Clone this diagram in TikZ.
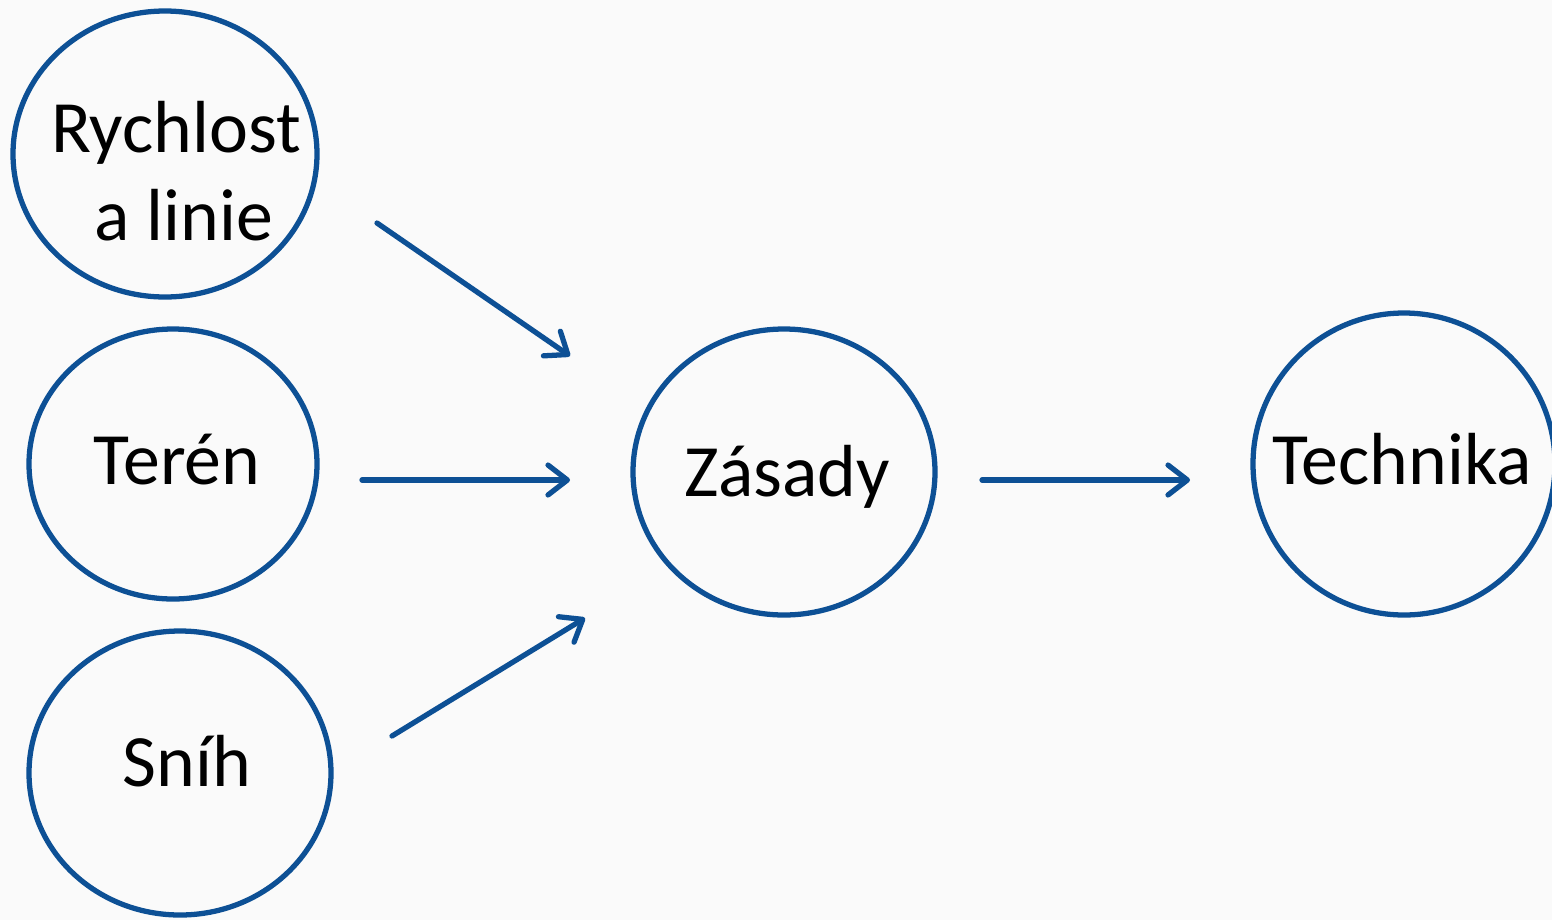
\documentclass[tikz,border=0pt]{standalone}
\usepackage{fontspec}
\setmainfont{Carlito}
\usetikzlibrary{shapes.geometric,arrows.meta}
\definecolor{ringblue}{HTML}{0D5095}
\definecolor{paper}{HTML}{FAFAFA}
\tikzset{
  ring/.style={draw=ringblue, line width=3pt, shape=ellipse, inner sep=0pt},
  word/.style={font=\fontsize{42}{50}\selectfont, text=black, inner sep=0pt, align=center},
  flow/.style={draw=ringblue, line width=3pt, line cap=round,
    -{Straight Barb[length=11pt,width=17pt,line width=3pt,round]}}
}
\begin{document}
\begin{tikzpicture}[x=0.02cm,y=-0.02cm]
  \fill[paper] (0,0) rectangle (1552,920);
  \useasboundingbox (0,0) rectangle (1552,920);

  % source circles
  \node[ring, minimum width=304*0.02cm, minimum height=286*0.02cm] (speed) at (165,154) {};
  \node[ring, minimum width=288*0.02cm, minimum height=270*0.02cm] (terrain) at (173,464) {};
  \node[ring, minimum width=302*0.02cm, minimum height=284*0.02cm] (snow) at (180,773) {};
  % principles and technique
  \node[ring, minimum width=302*0.02cm, minimum height=286*0.02cm] (rules) at (784,472) {};
  \node[ring, minimum width=302*0.02cm, minimum height=302*0.02cm] (tech) at (1404,464) {};

  % labels
  \node[word, anchor=base] (speedA) at (176,152) {Rychlost};
  \node[word, anchor=base] (speedB) at (184,240) {a linie};
  \node[word, anchor=base] (terrainT) at (177,484) {Terén};
  \node[word, anchor=base] (snowT) at (187,786) {Sníh};
  \node[word, anchor=base] (rulesT) at (787,496) {Zásady};
  \node[word, anchor=base] (techT) at (1402,484) {Technika};

  % arrow end points
  \coordinate (a1s) at (377,223); \coordinate (a1e) at (570,356);
  \coordinate (a2s) at (362,480); \coordinate (a2e) at (570,480);
  \coordinate (a3s) at (392,736); \coordinate (a3e) at (585,618);
  \coordinate (a4s) at (982,480); \coordinate (a4e) at (1190,480);

  \draw[flow] (a1s) -- (a1e);
  \draw[flow] (a2s) -- (a2e);
  \draw[flow] (a3s) -- (a3e);
  \draw[flow] (a4s) -- (a4e);
\end{tikzpicture}
\end{document}
